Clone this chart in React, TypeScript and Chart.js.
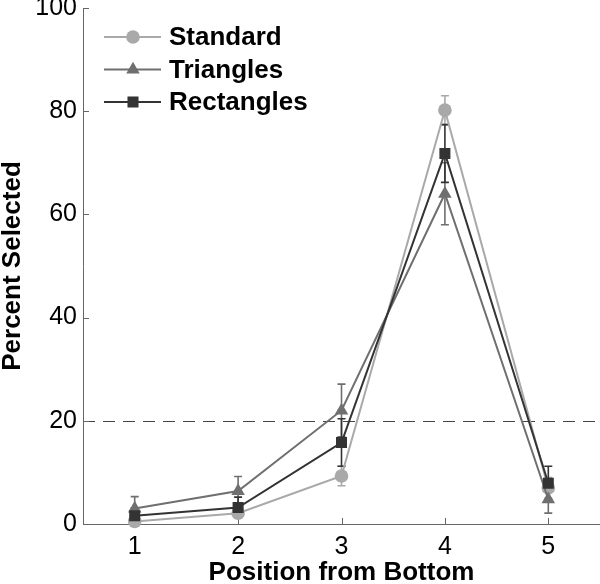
import React, { useEffect, useRef } from 'react';
import { Chart, registerables } from 'chart.js';

Chart.register(...registerables);

// ---- data ----
const positions = [1, 2, 3, 4, 5];
const positionLabels = ['1', '2', '3', '4', '5'];
const seriesNames = ['Standard', 'Triangles', 'Rectangles'];
const standardValues = [0.5, 2.1, 9.3, 80.2, 7.0];
const standardErrors = [0.6, 0.8, 1.9, 2.8, 2.0];
const triangleValues = [3.0, 6.4, 22.0, 64.0, 4.8];
const triangleErrors = [2.3, 2.8, 5.1, 6.0, 2.7];
const rectangleValues = [1.6, 3.2, 15.8, 71.8, 7.9];
const rectangleErrors = [1.5, 2.0, 4.6, 5.6, 3.3];
const yTickValues = [0, 20, 40, 60, 80, 100];
const chanceLevel = 20;

// ---- styles ----
const FONT = '"Liberation Sans", Arial, Helvetica, sans-serif';
const seriesColors = ['#a9a9a9', '#6f6f6f', '#333333'];
const seriesShapes = ['circle', 'triangle', 'rect'];
const seriesRadii = [6.8, 7.8, 7.8];
const seriesDrawOrder = [3, 2, 1];
const axisColor = '#666666';

function drawMarker(ctx: CanvasRenderingContext2D, shape: string, x: number, y: number, r: number) {
  ctx.beginPath();
  if (shape === 'circle') {
    ctx.arc(x, y, r, 0, Math.PI * 2);
  } else if (shape === 'triangle') {
    const h = r * 1.5;
    const side = r * Math.sqrt(3);
    ctx.moveTo(x, y - r);
    ctx.lineTo(x + side / 2, y - r + h);
    ctx.lineTo(x - side / 2, y - r + h);
    ctx.closePath();
  } else {
    const s = r * Math.SQRT1_2;
    ctx.rect(x - s, y - s, 2 * s, 2 * s);
  }
  ctx.fill();
}

const decorPlugin = {
  id: 'decor',
  beforeDatasetsDraw(chart: any) {
    const { ctx, chartArea, scales } = chart;
    const xs = scales.x;
    const ys = scales.y;
    ctx.save();
    // chance line
    ctx.strokeStyle = '#444444';
    ctx.lineWidth = 1;
    ctx.setLineDash([12, 8]);
    const yy = Math.round(ys.getPixelForValue(chanceLevel)) + 0.5;
    ctx.beginPath();
    ctx.moveTo(chartArea.left, yy);
    ctx.lineTo(chartArea.right, yy);
    ctx.stroke();
    ctx.setLineDash([]);
    // inward ticks
    ctx.strokeStyle = axisColor;
    ctx.lineWidth = 1;
    yTickValues.forEach((v) => {
      const py = Math.round(ys.getPixelForValue(v)) + 0.5;
      ctx.beginPath();
      ctx.moveTo(chartArea.left, py);
      ctx.lineTo(chartArea.left + 6, py);
      ctx.stroke();
    });
    positions.forEach((v) => {
      const px = Math.round(xs.getPixelForValue(v)) + 0.5;
      ctx.beginPath();
      ctx.moveTo(px, chartArea.bottom);
      ctx.lineTo(px, chartArea.bottom - 6);
      ctx.stroke();
    });
    // x tick labels
    ctx.fillStyle = '#000000';
    ctx.font = `25px ${FONT}`;
    ctx.textAlign = 'center';
    ctx.textBaseline = 'middle';
    positions.forEach((v, i) => {
      ctx.fillText(positionLabels[i], xs.getPixelForValue(v), chartArea.bottom + 23);
    });
    // error bars
    chart.data.datasets.forEach((ds: any) => {
      const errs: number[] = ds.errorBars;
      ctx.strokeStyle = ds.borderColor;
      ctx.lineWidth = 1.6;
      ds.data.forEach((pt: any, j: number) => {
        const px = xs.getPixelForValue(pt.x);
        const lo = ys.getPixelForValue(pt.y - errs[j]);
        const hi = ys.getPixelForValue(pt.y + errs[j]);
        ctx.beginPath();
        ctx.moveTo(px, lo);
        ctx.lineTo(px, hi);
        ctx.moveTo(px - 4, lo);
        ctx.lineTo(px + 4, lo);
        ctx.moveTo(px - 4, hi);
        ctx.lineTo(px + 4, hi);
        ctx.stroke();
      });
    });
    ctx.restore();
  },
  afterDraw(chart: any) {
    const { ctx } = chart;
    ctx.save();
    seriesNames.forEach((name, i) => {
      const y = 37 + i * 32.5;
      ctx.strokeStyle = seriesColors[i];
      ctx.fillStyle = seriesColors[i];
      ctx.lineWidth = 2;
      ctx.beginPath();
      ctx.moveTo(104, y);
      ctx.lineTo(161, y);
      ctx.stroke();
      drawMarker(ctx, seriesShapes[i], 133, y, seriesRadii[i]);
      ctx.fillStyle = '#000000';
      ctx.font = `bold 26px ${FONT}`;
      ctx.textBaseline = 'middle';
      ctx.textAlign = 'left';
      ctx.fillText(name, 169, y + 1);
    });
    ctx.restore();
  },
};

export default function App() {
  const canvasRef = useRef<HTMLCanvasElement | null>(null);

  useEffect(() => {
    document.body.style.margin = '0';
    const canvas = canvasRef.current;
    if (!canvas) return;
    const valueSets = [standardValues, triangleValues, rectangleValues];
    const errorSets = [standardErrors, triangleErrors, rectangleErrors];
    const chart = new Chart(canvas, {
      type: 'line',
      data: {
        datasets: seriesNames.map((name, i) => ({
          label: name,
          data: positions.map((p, j) => ({ x: p, y: valueSets[i][j] })),
          errorBars: errorSets[i],
          order: seriesDrawOrder[i],
          borderColor: seriesColors[i],
          backgroundColor: seriesColors[i],
          pointBackgroundColor: seriesColors[i],
          pointBorderColor: seriesColors[i],
          pointBorderWidth: 0,
          pointStyle: seriesShapes[i],
          pointRadius: seriesRadii[i],
          borderWidth: 2,
          tension: 0,
          clip: false,
        })) as any,
      },
      options: {
        animation: false,
        responsive: false,
        devicePixelRatio: 1,
        events: [],
        layout: { autoPadding: false, padding: { top: 8, right: 0, left: 0, bottom: 0 } },
        plugins: {
          legend: { display: false },
          tooltip: { enabled: false },
        },
        scales: {
          x: {
            type: 'linear',
            min: 0.5,
            max: 5.5,
            grid: { display: false, drawTicks: false },
            border: { display: true, color: axisColor, width: 1 },
            afterBuildTicks: (scale: any) => {
              scale.ticks = positions.map((v) => ({ value: v }));
            },
            afterFit: (scale: any) => {
              scale.height = 60;
              scale.paddingLeft = 0;
              scale.paddingRight = 0;
            },
            ticks: { display: false },
            title: {
              display: true,
              text: 'Position from Bottom',
              color: '#000000',
              padding: 0,
              font: { family: FONT, size: 26, weight: 'bold', lineHeight: 0.85 },
            },
          },
          y: {
            type: 'linear',
            min: 0,
            max: 100,
            grid: { display: false, drawTicks: false },
            border: { display: true, color: axisColor, width: 1 },
            afterBuildTicks: (scale: any) => {
              scale.ticks = yTickValues.map((v) => ({ value: v }));
            },
            afterFit: (scale: any) => {
              scale.width = 83;
              scale.paddingTop = 0;
              scale.paddingBottom = 0;
            },
            ticks: {
              color: '#000000',
              padding: 6,
              autoSkip: false,
              font: { family: FONT, size: 25 },
              callback: (v: any) => String(v),
            },
            title: {
              display: true,
              text: 'Percent Selected',
              color: '#000000',
              padding: 0,
              font: { family: FONT, size: 26, weight: 'bold', lineHeight: 1 },
            },
          },
        },
      } as any,
      plugins: [decorPlugin],
    });
    return () => chart.destroy();
  }, []);

  return (
    <div style={{ width: 600, height: 584, background: '#ffffff' }}>
      <canvas ref={canvasRef} width={600} height={584} />
    </div>
  );
}
